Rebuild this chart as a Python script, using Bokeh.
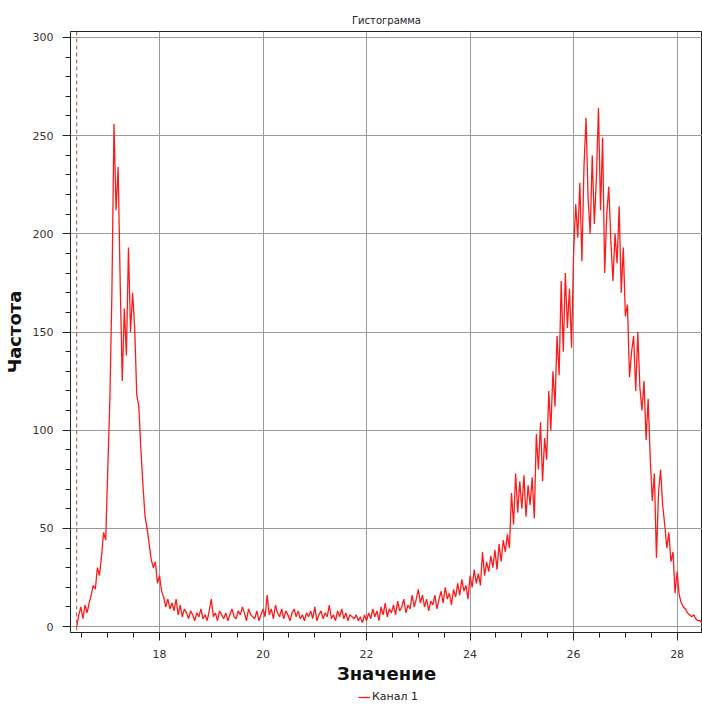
from bokeh.plotting import figure
from bokeh.layouts import column
from bokeh.models import (Range1d, SingleIntervalTicker, Span, Legend, LegendItem,
                          ColumnDataSource)
from bokeh.embed import file_html
from bokeh.resources import INLINE

# ---- data -------------------------------------------------------------
title_text = "Гистограмма"
x_label = "Значение"
y_label = "Частота"
series_name = "Канал 1"

bin_start = 16.40
bin_width = 0.04
marker_x = 16.40

counts_peak1 = [0, 6, 10, 4, 11, 7, 12, 16, 21, 19, 30, 26, 36, 48, 44,
                80, 115, 170, 256, 212, 234, 175, 125, 162, 138, 193, 150, 170,
                152, 118, 112, 90, 72, 56, 50, 42, 34, 30, 33, 22, 26, 18, 15,
                10, 14, 9]
counts_flat = [12, 8, 14, 6, 11, 5, 9, 7, 4, 8, 6, 3, 7, 5, 9, 4, 6, 3, 8, 14,
               5, 7, 3, 8, 6, 4, 7, 3, 6, 9, 5, 4, 8, 6, 10, 7, 3, 9, 6, 5, 4,
               8, 3, 6, 9, 5, 16, 6, 9, 4, 11, 7, 5, 9, 4, 8, 6, 3, 7, 9, 5, 8,
               4, 6, 3, 7, 5, 8, 4, 10, 3, 6, 8, 4, 7, 5, 11, 4, 6, 3, 8, 5, 9,
               4, 7, 3, 6, 5, 4, 6, 3, 5, 2, 6, 3]
counts_rise = [7, 4, 9, 5, 8, 3, 10, 6, 12, 5, 9, 7, 11, 6, 13, 8, 10, 14, 7,
               11, 9, 16, 10, 14, 19, 12, 16, 10, 14, 8, 13, 11, 16, 9, 14, 18,
               12, 20, 14, 17, 11, 19, 15, 22, 16, 24, 18, 21, 14, 26, 20, 29,
               22, 27, 21]
counts_peak2 = [38, 26, 33, 28, 36, 30, 39, 29, 42, 33, 44, 38, 47, 40, 68, 52,
                78, 58, 74, 60, 77, 56, 72, 62, 76, 55, 98, 80, 104, 74, 96, 85,
                120, 100, 130, 112, 148, 128, 176, 140, 180, 152, 172, 142, 190,
                215, 198, 226, 186, 234, 259, 218, 200, 240, 205, 228, 264, 212,
                249, 180, 210, 224, 196, 176, 200, 185, 214, 170, 193, 158, 164,
                127, 140, 148, 120, 150, 122, 110, 125, 95, 116, 86, 64, 78, 35,
                68, 80, 62, 52, 40, 48, 33, 38, 17, 28, 16, 12, 10, 9, 7, 6, 5,
                6, 4, 3, 3, 2]

counts = counts_peak1 + counts_flat + counts_rise + counts_peak2
xs = [round(bin_start + i * bin_width, 4) for i in range(len(counts))]

x_min, x_max = 16.28, 28.49
y_min, y_max = -3.0, 303.0

# ---- main figure ------------------------------------------------------
p = figure(frame_width=632, frame_height=601, output_backend="svg",
           toolbar_location=None,
           x_range=Range1d(x_min, x_max), y_range=Range1d(y_min, y_max),
           min_border_left=0, min_border_right=0, min_border_top=31,
           min_border_bottom=58, background_fill_color="white",
           border_fill_color="white")

p.title.text = title_text
p.title.align = "center"
p.title.text_font = "DejaVu Sans"
p.title.text_font_size = "10px"
p.title.text_font_style = "normal"
p.title.text_color = "#222222"
p.title.standoff = 11

p.outline_line_color = "#222222"
p.outline_line_width = 1

src = ColumnDataSource(dict(x=xs, y=counts))
r = p.line("x", "y", source=src, line_color="#ff1a1a", line_width=1.3)

p.add_layout(Span(location=marker_x, dimension="height", line_color="#c04848",
                  line_dash="4 3", line_width=1))

for ax in (p.xaxis[0], p.yaxis[0]):
    ax.axis_line_color = "#222222"
    ax.major_tick_line_color = "#222222"
    ax.minor_tick_line_color = "#222222"
    ax.major_tick_out = 8
    ax.major_tick_in = 0
    ax.minor_tick_out = 5
    ax.minor_tick_in = 0
    ax.major_label_text_font = "DejaVu Sans"
    ax.major_label_text_font_size = "11px"
    ax.major_label_text_color = "#333333"
    ax.axis_label_text_font = "DejaVu Sans"
    ax.axis_label_text_font_size = "18px"
    ax.axis_label_text_font_style = "bold"
    ax.axis_label_text_color = "#111111"

p.xaxis[0].ticker = SingleIntervalTicker(interval=2, num_minor_ticks=4)
p.yaxis[0].ticker = SingleIntervalTicker(interval=50, num_minor_ticks=5)
p.xaxis[0].axis_label = x_label
p.yaxis[0].axis_label = y_label
p.xaxis[0].major_label_standoff = 9
p.xaxis[0].axis_label_standoff = 2
p.yaxis[0].major_label_standoff = 9
p.yaxis[0].axis_label_standoff = 5

p.xgrid.grid_line_color = "#9a9a9a"
p.ygrid.grid_line_color = "#9a9a9a"
p.xgrid.grid_line_width = 1
p.ygrid.grid_line_width = 1
p.xgrid.ticker = p.xaxis[0].ticker
p.ygrid.ticker = p.yaxis[0].ticker

# ---- legend strip under the chart -------------------------------------
pl = figure(width=694, height=14, output_backend="svg", toolbar_location=None,
            x_range=Range1d(0, 1), y_range=Range1d(0, 1),
            min_border=0, outline_line_color=None,
            background_fill_color="white", border_fill_color="white")
pl.axis.visible = False
pl.grid.visible = False
rl = pl.line("x", "y", source=src, line_color="#ff1a1a", line_width=1.3)

legend = Legend(items=[LegendItem(label=series_name, renderers=[rl])],
                orientation="horizontal", location=(288, 1),
                label_text_font="DejaVu Sans", label_text_font_size="11px",
                label_text_color="#222222", glyph_width=12, glyph_height=10,
                label_standoff=2, padding=0, margin=0, spacing=0,
                border_line_color=None, background_fill_alpha=0,
                label_height=12)
pl.add_layout(legend, "center")

layout = column(p, pl, spacing=0)
open("out.html", "w").write(file_html(layout, INLINE))
